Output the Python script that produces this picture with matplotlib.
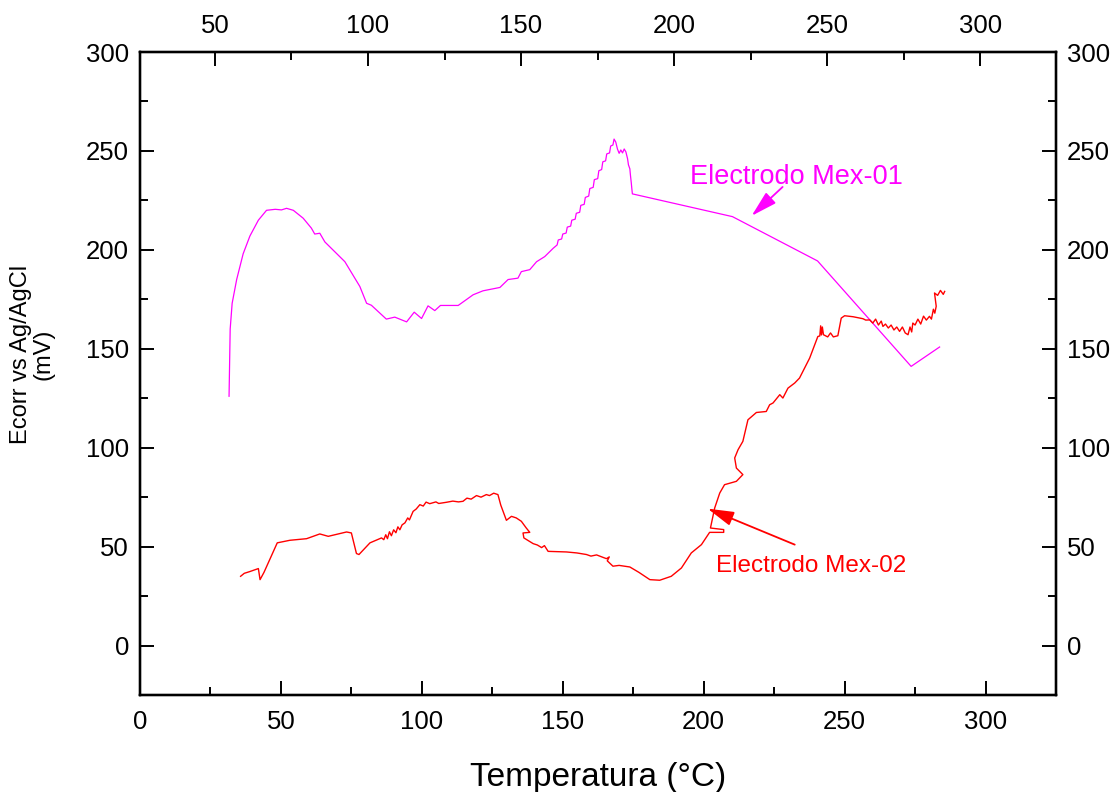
import matplotlib
matplotlib.use("Agg")
import matplotlib.pyplot as plt
import numpy as np

plt.rcParams['font.family'] = ['Liberation Sans', 'DejaVu Sans']

# Electrodo Mex-01: temperatura (°C) y Ecorr (mV)
mex01_temp = [
    31.6, 32.0, 32.7, 34.3, 36.6, 39.0, 42.0, 44.9, 48.0, 50.2, 52.0, 54.4,
    57.9, 60.8, 62.0, 63.8, 65.6, 72.7, 78.0, 80.4, 82.1, 87.4, 90.4, 94.6,
    97.3, 99.9, 102.2, 104.6, 106.6, 112.9, 118.2, 121.7, 127.7, 130.6, 134.1,
    135.3, 138.3, 140.7, 143.6, 146.6, 148.0, 148.4, 149.6, 150.0, 151.2, 151.6,
    152.8, 153.2, 154.4, 154.8, 156.0, 156.4, 157.6, 158.0, 159.2, 159.6, 160.8,
    161.2, 162.4, 162.8, 163.8, 164.2, 165.2, 165.6, 166.6, 167.0, 167.8, 168.2,
    168.8, 169.4, 170.0, 170.6, 171.2, 171.8, 172.4, 173.0, 173.3, 173.8, 174.0,
    174.3, 174.5, 174.7, 210.2, 240.4, 273.6, 283.7,
]
mex01_ecorr = [
    126.0, 160.0, 173.0, 185.0, 198.0, 207.0, 215.0, 220.0, 220.5, 220.2, 221.0, 220.0,
    216.0, 211.0, 208.0, 208.4, 204.0, 194.0, 181.5, 173.0, 172.0, 165.0, 166.0, 163.6,
    168.5, 165.3, 171.7, 169.3, 171.9, 171.9, 177.3, 179.3, 181.0, 185.0, 185.7,
    189.0, 190.0, 194.0, 196.6, 200.8, 202.5, 205.0, 205.5, 208.0, 208.5, 211.5,
    212.0, 215.0, 215.5, 218.5, 219.0, 222.5, 223.0, 226.5, 227.2, 231.0, 231.6,
    235.5, 236.0, 240.0, 240.6, 244.5, 245.0, 248.5, 249.0, 252.5, 253.0, 256.0,
    254.5, 251.0, 248.8, 250.5, 249.0, 251.0, 249.5, 246.0, 243.0, 241.0, 237.9,
    234.0, 231.0, 228.3, 216.8, 194.4, 141.1, 150.9,
]

# Electrodo Mex-02: temperatura (°C) y Ecorr (mV)
mex02_temp = [
    35.7, 37.0, 39.0, 42.0, 42.6, 44.0, 48.7, 53.2, 59.1, 63.8, 66.8, 73.3,
    75.0, 76.8, 77.7, 81.6, 85.7, 86.5, 87.2, 87.8, 88.5, 89.2, 90.0, 90.8,
    91.5, 92.2, 93.0, 94.0, 95.0, 95.6, 96.9, 98.0, 99.3, 100.5, 101.5, 102.8,
    105.0, 106.0, 108.7, 111.0, 113.0, 114.6, 116.0, 117.5, 119.4, 121.0, 122.9,
    124.0, 125.5, 127.0, 128.0, 130.0, 131.8, 133.5, 135.3, 137.0, 138.3, 135.9,
    136.2, 139.5, 141.0, 142.5, 143.5, 144.8, 151.3, 155.0, 158.4, 160.0, 162.0,
    165.5, 166.5, 165.8, 167.8, 170.0, 173.8, 177.0, 180.9, 184.4, 188.5, 192.1,
    195.6, 199.2, 202.1, 207.1, 207.1, 202.4, 203.9, 205.7, 207.4, 211.6, 213.9,
    211.6, 211.0, 212.2, 213.9, 215.7, 218.7, 222.2, 223.4, 224.6, 227.0, 228.1,
    229.3, 229.9, 232.3, 234.0, 237.6, 240.5, 241.2, 241.5, 241.8, 242.1, 242.5,
    244.0, 245.0, 246.0, 247.6, 248.8, 250.0, 253.0, 256.5, 257.5, 258.9, 260.0,
    261.0, 262.0, 263.0, 263.6, 264.5, 265.5, 266.5, 267.5, 268.5, 269.5, 270.5,
    271.5, 272.5, 273.2, 273.8, 274.2, 275.0, 276.0, 277.0, 278.0, 279.0, 280.1,
    280.8, 281.5, 282.0, 282.5, 281.9, 283.0, 284.0, 285.0, 285.5,
]
mex02_ecorr = [
    35.0, 36.5, 37.4, 38.9, 33.3, 37.0, 51.9, 53.2, 54.0, 56.4, 55.2, 57.4,
    56.9, 46.5, 46.0, 51.9, 54.4, 53.5, 56.0, 54.0, 57.5, 55.5, 58.5, 57.0,
    60.0, 58.5, 61.0, 62.0, 64.5, 63.5, 67.8, 69.0, 71.2, 70.5, 72.5, 71.7,
    72.6, 71.8, 72.4, 73.0, 72.6, 72.9, 74.5, 74.0, 75.8, 75.0, 76.3,
    75.8, 77.0, 76.3, 71.0, 63.3, 65.3, 64.5, 62.8, 59.5, 57.2, 56.9,
    54.4, 51.5, 50.8, 49.5, 50.5, 47.6, 47.3, 46.8, 46.0, 45.2, 45.8,
    43.9, 44.8, 42.8, 40.1, 40.5, 39.7, 37.0, 33.3, 33.0, 35.0, 39.2,
    46.8, 51.0, 57.2, 57.2, 58.6, 59.4, 69.5, 77.1, 81.3, 83.0, 86.4,
    89.7, 94.8, 99.0, 103.2, 114.1, 117.8, 118.3, 121.7, 122.6, 126.8, 125.1,
    128.5, 130.1, 132.7, 135.2, 145.3, 156.2, 156.5, 161.6, 157.0, 161.0, 157.1,
    156.0, 158.0, 156.0, 156.6, 165.5, 166.7, 166.2, 165.2, 164.5, 164.6, 163.0,
    165.0, 162.0, 164.0, 161.3, 162.5, 160.5, 162.0, 159.5, 161.0, 158.8, 161.0,
    158.0, 157.1, 161.0, 158.5, 163.0, 162.0, 165.0, 162.5, 166.5, 164.5, 166.4,
    165.0, 170.0, 168.0, 171.5, 178.2, 177.0, 179.5, 177.5, 179.0,
]

x_ticks = [0, 50, 100, 150, 200, 250, 300]
top_ticks = [50, 100, 150, 200, 250, 300]
y_ticks = [0, 50, 100, 150, 200, 250, 300]

fig = plt.figure(figsize=(11.19, 7.92), dpi=100)
ax = fig.add_axes([0.1251, 0.1225, 0.8186, 0.8118])

ax.plot(mex01_temp, mex01_ecorr, color='#ff00ff', lw=0.9)
ax.plot(mex02_temp, mex02_ecorr, color='#ff0000', lw=1.0)

ax.set_xlim(0, 325)
ax.set_ylim(-25, 300)
ax.set_xticks(x_ticks)
ax.set_xticks(np.arange(25, 325, 50), minor=True)
ax.set_yticks(y_ticks)
ax.set_yticks(np.arange(25, 300, 50), minor=True)

ax_top = ax.twiny()
ax_top.set_xlim(25.5, 324.8)
ax_top.set_xticks(top_ticks)
ax_top.set_xticks(np.arange(75, 325, 50), minor=True)

ax_right = ax.twinx()
ax_right.set_ylim(-25, 300)
ax_right.set_yticks(y_ticks)
ax_right.set_yticks(np.arange(25, 300, 50), minor=True)

for a in (ax, ax_top, ax_right):
    for s in a.spines.values():
        s.set_linewidth(1.6)
    a.tick_params(which='major', direction='in', length=10, width=1.4,
                  labelsize=18.5, pad=8)
    a.tick_params(which='minor', direction='in', length=5.5, width=1.4)
ax.tick_params(axis='x', which='major', pad=11)
ax_top.tick_params(axis='x', which='major', pad=10)

ax.set_xlabel('Temperatura (°C)', fontsize=24, labelpad=20)
fig.text(0.029, 0.553, 'Ecorr vs Ag/AgCl\n(mV)', rotation=90, fontsize=17,
         ha='center', va='center', multialignment='center', linespacing=1.0)

# etiquetas de cada electrodo con su flecha
head = '-|>,head_length=0.8,head_width=0.22'
ax.text(233, 237, 'Electrodo Mex-01', color='#ff00ff', fontsize=19.5,
        ha='center', va='center')
ax.annotate('', xy=(217, 217.2), xytext=(228, 231.8),
            arrowprops=dict(arrowstyle=head, color='#ff00ff', lw=1.3,
                            mutation_scale=20, shrinkA=0, shrinkB=0))
ax.text(238, 40, 'Electrodo Mex-02', color='#ff0000', fontsize=17.5,
        ha='center', va='center')
ax.annotate('', xy=(201.4, 69.2), xytext=(232.3, 51),
            arrowprops=dict(arrowstyle=head, color='#ff0000', lw=1.3,
                            mutation_scale=20, shrinkA=0, shrinkB=0))

fig.savefig('out.png', dpi=100)
